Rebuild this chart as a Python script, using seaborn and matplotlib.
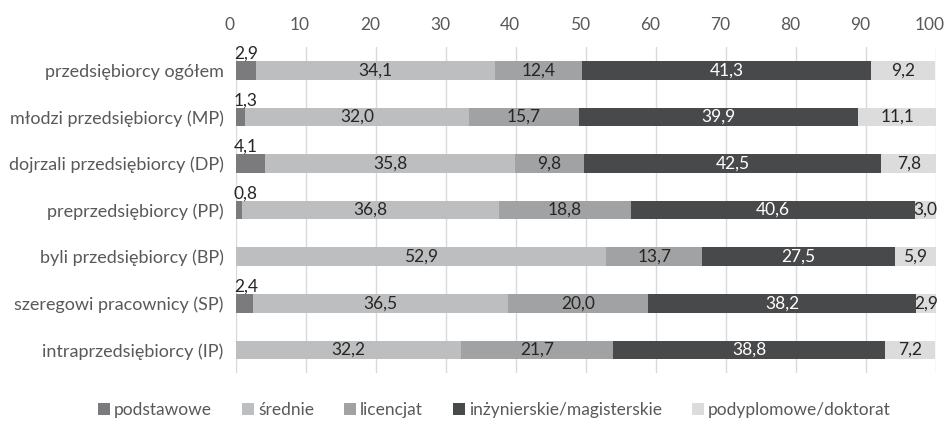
import matplotlib
matplotlib.use("Agg")
import matplotlib.pyplot as plt
import matplotlib.transforms as mtransforms
import seaborn as sns
import pandas as pd
from matplotlib.patches import Patch

categories = [
    "przedsiębiorcy ogółem",
    "młodzi przedsiębiorcy (MP)",
    "dojrzali przedsiębiorcy (DP)",
    "preprzedsiębiorcy (PP)",
    "byli przedsiębiorcy (BP)",
    "szeregowi pracownicy (SP)",
    "intraprzedsiębiorcy (IP)",
]
series_names = ["podstawowe", "średnie", "licencjat",
                "inżynierskie/magisterskie", "podyplomowe/doktorat"]
podstawowe = [2.9, 1.3, 4.1, 0.8, 0.0, 2.4, 0.0]
srednie = [34.1, 32.0, 35.8, 36.8, 52.9, 36.5, 32.2]
licencjat = [12.4, 15.7, 9.8, 18.8, 13.7, 20.0, 21.7]
inz_mgr = [41.3, 39.9, 42.5, 40.6, 27.5, 38.2, 38.8]
podypl = [9.2, 11.1, 7.8, 3.0, 5.9, 2.9, 7.2]
x_ticks = [0, 10, 20, 30, 40, 50, 60, 70, 80, 90, 100]

colors = ["#7b7b7d", "#bdbec0", "#a1a2a4", "#48494b", "#dcdcdd"]
label_colors = ["#262626", "#262626", "#262626", "#ffffff", "#262626"]

sns.set_theme(style="white")
plt.rcParams["font.family"] = ["Lato", "DejaVu Sans"]

values = [podstawowe, srednie, licencjat, inz_mgr, podypl]
df = pd.DataFrame({name: vals for name, vals in zip(series_names, values)})
df["kategoria"] = categories
cum = df[series_names].cumsum(axis=1)

fig = plt.figure(figsize=(9.45, 4.24), dpi=100)
ax = fig.add_axes([0.2497, 0.12, 0.7408, 0.769])

# draw cumulative totals from the outermost layer inwards to get stacked bars
for i in range(len(series_names) - 1, -1, -1):
    d = pd.DataFrame({"kategoria": categories, "x": cum[series_names[i]]})
    sns.barplot(data=d, x="x", y="kategoria", order=categories, color=colors[i],
                saturation=1, width=0.4, ax=ax, orient="h", linewidth=0, zorder=2)

# value labels
lbl_size = 12.5
for row in range(len(categories)):
    left = 0.0
    for i, name in enumerate(series_names):
        v = df.loc[row, name]
        txt = f"{v:.1f}".replace(".", ",")
        if i == 0:
            if v > 0:
                ax.text(-0.3, row - 0.36, txt, ha="left", va="center",
                        fontsize=lbl_size, color=label_colors[i], zorder=3)
        elif v > 0:
            ax.text(left + v / 2, row, txt, ha="center", va="center",
                    fontsize=lbl_size, color=label_colors[i], zorder=3)
        left += v

ax.set_xlim(0, 100)
ax.set_ylim(6.5, -0.5)
ax.set_xticks(x_ticks)
ax.xaxis.tick_top()
ax.tick_params(axis="x", length=0, pad=10, labelsize=12.5, labelcolor="#595959")
ax.tick_params(axis="y", length=0, pad=9, labelsize=13, labelcolor="#595959")
ax.set_xlabel("")
ax.set_ylabel("")
ax.grid(axis="x", color="#d9d9d9", linewidth=1, zorder=0)
ax.grid(axis="y", visible=False)
ax.set_axisbelow(True)
for s in ax.spines.values():
    s.set_visible(False)

# nudge the top tick labels slightly to the left
shift = mtransforms.ScaledTranslation(-6 / 100, 0, fig.dpi_scale_trans)
for lab in ax.get_xticklabels():
    lab.set_transform(lab.get_transform() + shift)

handles = [Patch(facecolor=c, edgecolor="none", label=n) for c, n in zip(colors, series_names)]
fig.legend(handles=handles, loc="center", bbox_to_anchor=(0.523, 0.033), ncol=5,
           frameon=False, fontsize=12.5, handlelength=0.7, handleheight=0.7,
           handletextpad=0.25, columnspacing=1.7, labelcolor="#595959")

fig.savefig("out.png", dpi=100)
